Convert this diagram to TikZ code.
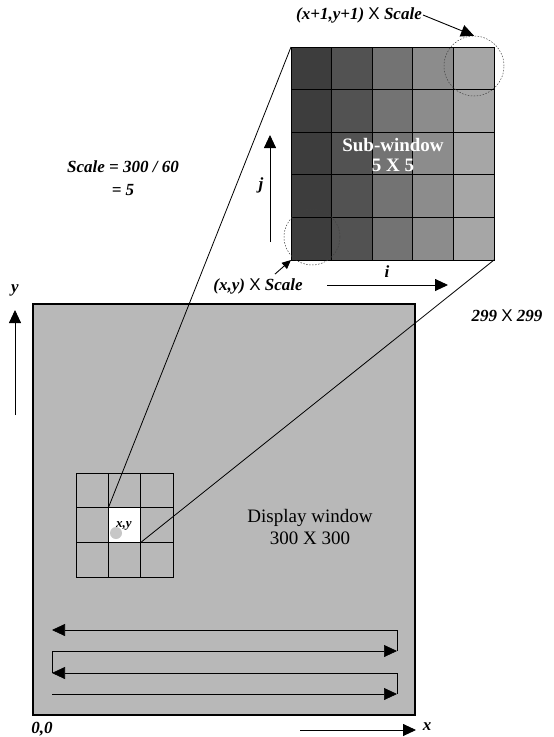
\documentclass[tikz,border=0pt]{standalone}
\usepackage{fontspec}
\setmainfont{Liberation Serif}
\newfontfamily\sansx{Liberation Sans}
\usetikzlibrary{arrows.meta, positioning}

\begin{document}
\begin{tikzpicture}[x=1pt, y=-1pt,
		win/.style={draw=black, inner sep=0pt, outer sep=0pt},
		arrow/.style={-{Triangle[length=13pt, width=12pt]}, line width=0.9pt},
		small arrow/.style={-{Triangle[length=9pt, width=8pt]}, line width=0.9pt},
		lbl/.style={font=\fontsize{17}{23}\selectfont\bfseries\itshape, inner sep=1pt},
		ring/.style={circle, draw=black!75, dash pattern=on 1.5pt off 1.5pt, line width=0.5pt, inner sep=0pt},
		gridline/.style={line width=0.7pt}
		]
		\useasboundingbox (0,0) rectangle (554,737);
		
		% Display window
		\node[win, line width=1.6pt, fill=black!28, minimum width=382pt, minimum height=411pt] (disp) at (224,509.5) {};
		\node[font=\fontsize{19}{22}\selectfont, align=center] (disptext) at (310,527) {Display window\\300 X 300};
		
		% 3 x 3 neighbourhood
		\foreach \c in {0,1,2}
			\foreach \r in {0,1,2}
				\draw[gridline] (76+\c*32.4, 473+\r*34.7) rectangle ++(32.4,34.7);
		\node[win, gridline, fill=white, minimum width=32.4pt, minimum height=34.7pt] (cell) at (124.6,525.05) {};
		\fill[black!22] (116,533) circle (6);
		\node[lbl, font=\fontsize{13}{15}\selectfont\bfseries\itshape] (celltext) at (124,526) {x,y};
		
		% Sub-window
		\foreach \c/\shade in {0/76,1/68,2/55,3/45,4/35}
			\fill[black!\shade] (291+\c*40.6,47) rectangle ++(40.6,213);
		\foreach \c in {1,...,4}
			\draw[gridline] (291+\c*40.6,47) -- ++(0,213);
		\foreach \r in {1,...,4}
			\draw[gridline] (291,47+\r*42.6) -- ++(203,0);
		\node[win, line width=1pt, minimum width=203pt, minimum height=213pt] (sub) at (392.5,153.5) {};
		\node[font=\fontsize{19}{20}\selectfont\bfseries, text=white, align=center] (subtext) at (393,155) {Sub-window\\5 X 5};
		
		% zoom lines
		\draw[line width=0.8pt] (sub.north west) -- (cell.north west);
		\draw[line width=0.8pt] (sub.south east) -- (cell.south east);
		
		% corner rings
		\node[ring, minimum size=60pt] (topring) at (474,66) {};
		\node[ring, minimum size=56pt] (botring) at (312,237) {};
		
		% corner labels
		\node[lbl] (toplbl) at (359,15) {(x+1,y+1) {\sansx\mdseries\upshape X} Scale};
		\draw[arrow] (toplbl.east) -- (topring.north);
		\node[lbl] (botlbl) at (258,286) {(x,y) {\sansx\mdseries\upshape X} Scale};
		\draw[small arrow] ([xshift=17pt,yshift=3pt]botlbl.north) -- (sub.south west);
		
		% i, j directions
		\coordinate (i0) at (327,285);
		\coordinate (i1) at (448,285);
		\draw[arrow] (i0) -- (i1);
		\node[lbl] (ilbl) at (387,272) {i};
		\coordinate (j0) at (270,242);
		\coordinate (j1) at (270,135);
		\draw[arrow] (j0) -- (j1);
		\node[lbl] (jlbl) at (261,185) {j};
		
		% axes
		\coordinate (y0) at (15,415);
		\coordinate (y1) at (15,310);
		\draw[arrow] (y0) -- (y1);
		\node[lbl] (ylbl) at (15,290) {y};
		\coordinate (x0) at (300,730);
		\coordinate (x1) at (416,730);
		\draw[arrow] (x0) -- (x1);
		\node[lbl] (xlbl) at (427,727) {x};
		\node[lbl] (origin) at (42,729) {0,0};
		\node[lbl] (size) at (507,316) {299 {\sansx\mdseries\upshape X} 299};
		\node[lbl, align=center] (scale) at (123,178) {Scale = 300 / 60\\= 5};
		
		% scan order
		\foreach \k/\yy in {1/630,2/651,3/673,4/694} {
			\coordinate (L\k) at (52,\yy);
			\coordinate (R\k) at (397,\yy);
		}
		\draw[arrow, line width=0.7pt] (L4) -- (R4);
		\draw[line width=0.7pt] (R4) -- (R3);
		\draw[arrow, line width=0.7pt] (R3) -- (L3);
		\draw[line width=0.7pt] (L3) -- (L2);
		\draw[arrow, line width=0.7pt] (L2) -- (R2);
		\draw[line width=0.7pt] (R2) -- (R1);
		\draw[arrow, line width=0.7pt] (R1) -- (L1);
		
	\end{tikzpicture}
\end{document}
